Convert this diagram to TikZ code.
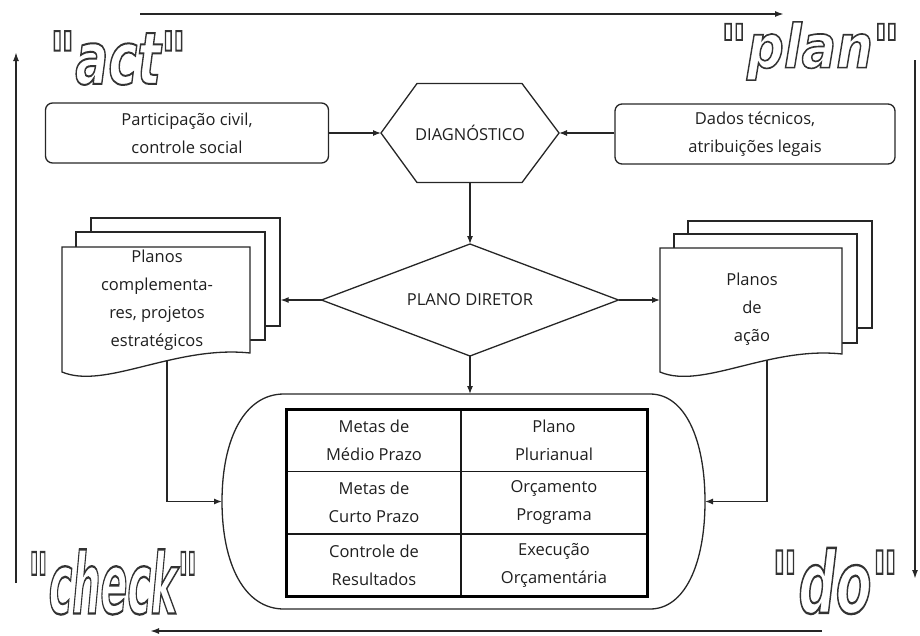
\documentclass[tikz,border=0pt]{standalone}
\usepackage{fontspec}
\setmainfont{Open Sans}
\newfontfamily\pdcafont{DejaVu Sans}
\usetikzlibrary{arrows.meta}
\newcommand{\hollow}[1]{\special{pdf:literal direct 2 Tr 1.7 w 1 1 1 rg 0.2 0.2 0.2 RG}#1\special{pdf:literal direct 0 Tr 0 0 0 rg 0 0 0 RG}}
\tikzset{
  txt/.style={font=\fontsize{16.5}{28}\selectfont, text=black!88, align=center, inner sep=0pt},
  ghost/.style={inner sep=0pt, outer sep=0pt},
  shp/.style={draw=black!85, line width=1.3pt},
  arr/.style={draw=black!85, line width=1.2pt, -{Latex[length=8pt,width=6pt]}},
  cyc/.style={draw=black!85, line width=1.7pt, -{Latex[length=9pt,width=6pt]}},
  sheet/.style={shp, fill=white, inner sep=0pt},
  pdca/.style={inner sep=0pt, font=\pdcafont\bfseries\itshape\fontsize{62}{62}\selectfont},
  cell/.style={txt, minimum height=62pt}
}
\begin{document}
\begin{tikzpicture}[x=1pt, y=-1pt]
\useasboundingbox (0,0) rectangle (920,635);

% outer PDCA cycle
\coordinate (ta) at (140,14);
\coordinate (tb) at (784,14);
\coordinate (ra) at (915,60);
\coordinate (rb) at (915,579);
\coordinate (ba) at (822,631);
\coordinate (bb) at (150,631);
\coordinate (la) at (16,583);
\coordinate (lb) at (16,52);
\draw[cyc] (ta) -- (tb);
\draw[cyc] (ra) -- (rb);
\draw[cyc] (ba) -- (bb);
\draw[cyc] (la) -- (lb);

\node[pdca] (act) at (118,58) {\scalebox{0.79}[1.17]{\hollow{"act"}}};
\node[pdca] (plan) at (810,51) {\scalebox{0.83}[0.97]{\hollow{"plan"}}};
\node[pdca] (check) at (113,582) {\scalebox{0.64}[1.36]{\hollow{"check"}}};
\node[pdca] (do) at (835,581) {\scalebox{0.84}[1.38]{\hollow{"do"}}};

% top row
\node[txt, shp, rounded corners=7pt, minimum width=283pt, minimum height=60pt] (lbox) at (187,133)
  {Participação civil,\\controle social};
\node[txt, shp, rounded corners=7pt, minimum width=280pt, minimum height=60pt] (rbox) at (755,134)
  {Dados técnicos,\\atribuições legais};
\node[ghost, minimum width=178pt, minimum height=99pt] (hex) at (470,133) {};
\draw[shp] (hex.west) -- ([xshift=36pt]hex.north west) -- ([xshift=-37pt]hex.north east)
  -- (hex.east) -- ([xshift=-37pt]hex.south east) -- ([xshift=36pt]hex.south west) -- cycle;
\node[txt] (hext) at (hex.center) {DIAGNÓSTICO};

% plano diretor
\node[ghost, minimum width=297pt, minimum height=112pt] (pd) at (470,300) {};
\draw[shp] (pd.north) -- (pd.east) -- (pd.south) -- (pd.west) -- cycle;
\node[txt] (pdt) at (pd.center) {PLANO DIRETOR};

% left document stack
\node[sheet, minimum width=189pt, minimum height=108pt] (lb3) at (185.5,272) {};
\node[sheet, minimum width=189pt, minimum height=108pt] (lb2) at (170.5,286) {};
\node[ghost, minimum width=188pt, minimum height=125pt] (lf) at (156,309.5) {};
\draw[shp, fill=white] (lf.north west) -- (lf.north east) -- ([yshift=19pt]lf.south east)
  .. controls ([xshift=-75pt,yshift=27pt]lf.south east) and ([xshift=43pt,yshift=-18pt]lf.south west) .. (lf.south west) -- cycle;
\node[txt] (lft) at (157,300.5) {Planos\\complementa-\\res, projetos\\estratégicos};

% right document stack
\node[sheet, minimum width=184pt, minimum height=107pt] (rb3) at (780,274.5) {};
\node[sheet, minimum width=183pt, minimum height=109pt] (rb2) at (765.5,288.5) {};
\node[ghost, minimum width=182pt, minimum height=124pt] (rf) at (751,310) {};
\draw[shp, fill=white] (rf.north west) -- (rf.north east) -- ([yshift=18pt]rf.south east)
  .. controls ([xshift=-73pt,yshift=26pt]rf.south east) and ([xshift=42pt,yshift=-18pt]rf.south west) .. (rf.south west) -- cycle;
\node[txt] (rft) at (752,309.5) {Planos\\de\\ação};

% stadium
\node[ghost, minimum width=483pt, minimum height=215pt] (st) at (463.5,501.5) {};
\draw[shp] ([xshift=62pt]st.north west) -- ([xshift=-55pt]st.north east)
  .. controls ([xshift=-20pt]st.north east) and ([yshift=62pt]st.east) .. (st.east)
  .. controls ([yshift=-62pt]st.east) and ([xshift=-20pt]st.south east) .. ([xshift=-55pt]st.south east)
  -- ([xshift=62pt]st.south west)
  .. controls ([xshift=22pt]st.south west) and ([yshift=-62pt]st.west) .. (st.west)
  .. controls ([yshift=62pt]st.west) and ([xshift=22pt]st.north west) .. ([xshift=62pt]st.north west) -- cycle;

% table
\node[cell, minimum width=174pt] (c11) at (374,440.5) {Metas de\\Médio Prazo};
\node[cell, minimum width=186pt] (c12) at (554,440.5) {Plano\\Plurianual};
\node[cell, minimum width=174pt, minimum height=63pt] (c21) at (374,502.5) {Metas de\\Curto Prazo};
\node[cell, minimum width=186pt, minimum height=63pt] (c22) at (554,502.5) {Orçamento\\Programa};
\node[cell, minimum width=174pt] (c31) at (374,565) {Controle de\\Resultados};
\node[cell, minimum width=186pt] (c32) at (554,565) {Execução\\Orçamentária};
\draw[black!90, line width=1.5pt] (c11.north east) -- (c31.south east);
\draw[black!90, line width=1.5pt] (c11.south west) -- (c12.south east);
\draw[black!90, line width=1.5pt] (c21.south west) -- (c22.south east);
\draw[black, line width=2.8pt] (c11.north west) rectangle (c32.south east);

% connectors
\draw[arr] (lbox.east) -- (hex.west);
\draw[arr] (rbox.west |- hex.east) -- (hex.east);
\draw[arr] (hex.south) -- (pd.north);
\draw[arr] (pd.south) -- (pd.south |- st.north);
\draw[arr] (pd.west) -- (pd.west -| lb3.east);
\draw[arr] (pd.east) -- (pd.east -| rf.west);
\coordinate (lfb) at (167,360);
\coordinate (rfb) at (767,360);
\draw[arr] (lfb) |- (st.west);
\draw[arr] (rfb) |- (st.east);
\end{tikzpicture}
\end{document}
